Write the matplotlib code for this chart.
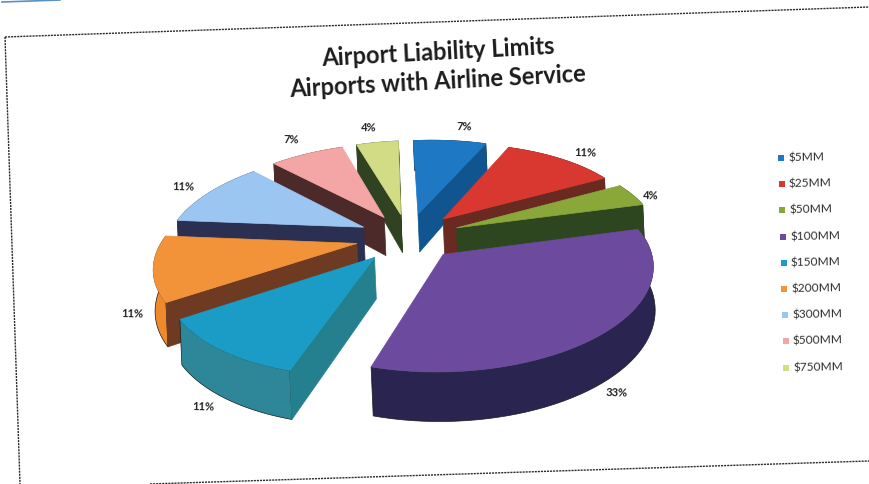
import numpy as np
import matplotlib
matplotlib.use("Agg")
import matplotlib.pyplot as plt
from matplotlib.patches import Polygon

### chart data ###
limits = ["$5MM", "$25MM", "$50MM", "$100MM", "$150MM", "$200MM", "$300MM", "$500MM", "$750MM"]
shares = [7, 11, 4, 33, 11, 11, 11, 7, 4]

top_colors = ["#1f78c4", "#d8382f", "#8aa83a", "#6c4a9e", "#1b9cc6", "#f2933a", "#9cc6f2", "#f4a6a6", "#d2dc84"]
cut_colors = ["#10558f", "#6a2a22", "#2e4620", "#2a2550", "#24808e", "#6e3a22", "#2b2f52", "#4c2a2a", "#2f4322"]
rim_colors = ["#10558f", "#b02c26", "#5f7a26", "#2a2550", "#2e8798", "#ee8a2c", "#5c8cc4", "#c87c7c", "#9aa85c"]

label_xy = [(464, 127), (585, 153), (651, 196), (617, 393), (203, 407),
            (132, 314), (183, 187), (291, 140), (369, 128)]

### projection of the tilted pie ###
cx, cy = 408, 238
rx, ry = 199, 92
persp = 0.16
explode = 0.26
depth = 40
tilt = np.radians(2.5)


def project(u, v, down=0.0):
    s = 1 / (1 + persp * v)
    dx = rx * u * s
    dy = -ry * v * s + down * depth * (1 - 0.2 * v)
    return (cx + dx * np.cos(tilt) + dy * np.sin(tilt),
            cy + dy * np.cos(tilt) - dx * np.sin(tilt))


fig = plt.figure(figsize=(8.69, 4.85), dpi=100)
ax = fig.add_axes([0, 0, 1, 1])
ax.set_xlim(0, 869)
ax.set_ylim(485, 0)
ax.axis("off")

### dashed frame ###
frame = dict(color="#2a2a2a", lw=1.0, ls=(0, (1.5, 0.7)))
ax.plot([5, 869], [38, 8], **frame)
ax.plot([5, 20], [38, 485], **frame)
ax.plot([150, 869], [485, 462], **frame)
ax.plot([2, 60], [3, 1], color="#5a8fc8", lw=1.2)

### title ###
ax.text(438, 52, "Airport Liability Limits", rotation=3, ha="center", va="center",
        family="Lato", weight="bold", fontsize=17, color="#1c1c1c", rotation_mode="anchor")
ax.text(438, 82, "Airports with Airline Service", rotation=3, ha="center", va="center",
        family="Lato", weight="bold", fontsize=17, color="#1c1c1c", rotation_mode="anchor")

### slices ###
fracs = np.array(shares) / np.sum(shares)
edges = np.concatenate([[0], np.cumsum(fracs)]) * 2 * np.pi
mids = (edges[:-1] + edges[1:]) / 2


def cut_wall(ou, ov, u, v, color):
    x0, y0 = project(ou, ov)
    x1, y1 = project(u, v)
    x2, y2 = project(u, v, 1)
    x3, y3 = project(ou, ov, 1)
    ax.add_patch(Polygon([(x0, y0), (x1, y1), (x2, y2), (x3, y3)], fc=color, ec=color, lw=0.5))


# back slices first so the front ones cover them
for i in np.argsort(-np.cos(mids)):
    t = np.linspace(edges[i], edges[i + 1], 50)
    ou, ov = explode * np.sin(mids[i]), explode * np.cos(mids[i])
    u = ou + np.sin(t)
    v = ov + np.cos(t)

    x0, y0 = project(u, v)
    x1, y1 = project(u, v, 1)
    rim = np.column_stack([np.r_[x0, x1[::-1]], np.r_[y0, y1[::-1]]])
    ax.add_patch(Polygon(rim, fc=rim_colors[i], ec="#1a1a1a", lw=0.5))

    # only the cut faces turned toward the viewer get drawn
    if np.sin(t[0]) < 0:
        cut_wall(ou, ov, u[0], v[0], cut_colors[i])
    if np.sin(t[-1]) > 0:
        cut_wall(ou, ov, u[-1], v[-1], cut_colors[i])

    tx, ty = project(np.r_[ou, u], np.r_[ov, v])
    ax.add_patch(Polygon(np.column_stack([tx, ty]), fc=top_colors[i], ec=top_colors[i], lw=0.5))

### value labels ###
for val, (lx, ly) in zip(shares, label_xy):
    ax.text(lx, ly, f"{val}%", ha="center", va="center", rotation=-1.5,
            family="Lato", weight="bold", fontsize=8, color="#222222")

### legend ###
for i, name in enumerate(limits):
    ly = 159 + i * 26.2
    lx = 781 + i * 0.65
    ax.scatter([lx], [ly], marker="s", s=22, color=top_colors[i], linewidths=0)
    ax.text(lx + 7, ly - 1, name.replace("$", r"\$"), ha="left", va="center", rotation=1,
            family="Lato", fontsize=8.6, color="#2e2e2e", rotation_mode="anchor")

plt.savefig("out.png", dpi=100)
